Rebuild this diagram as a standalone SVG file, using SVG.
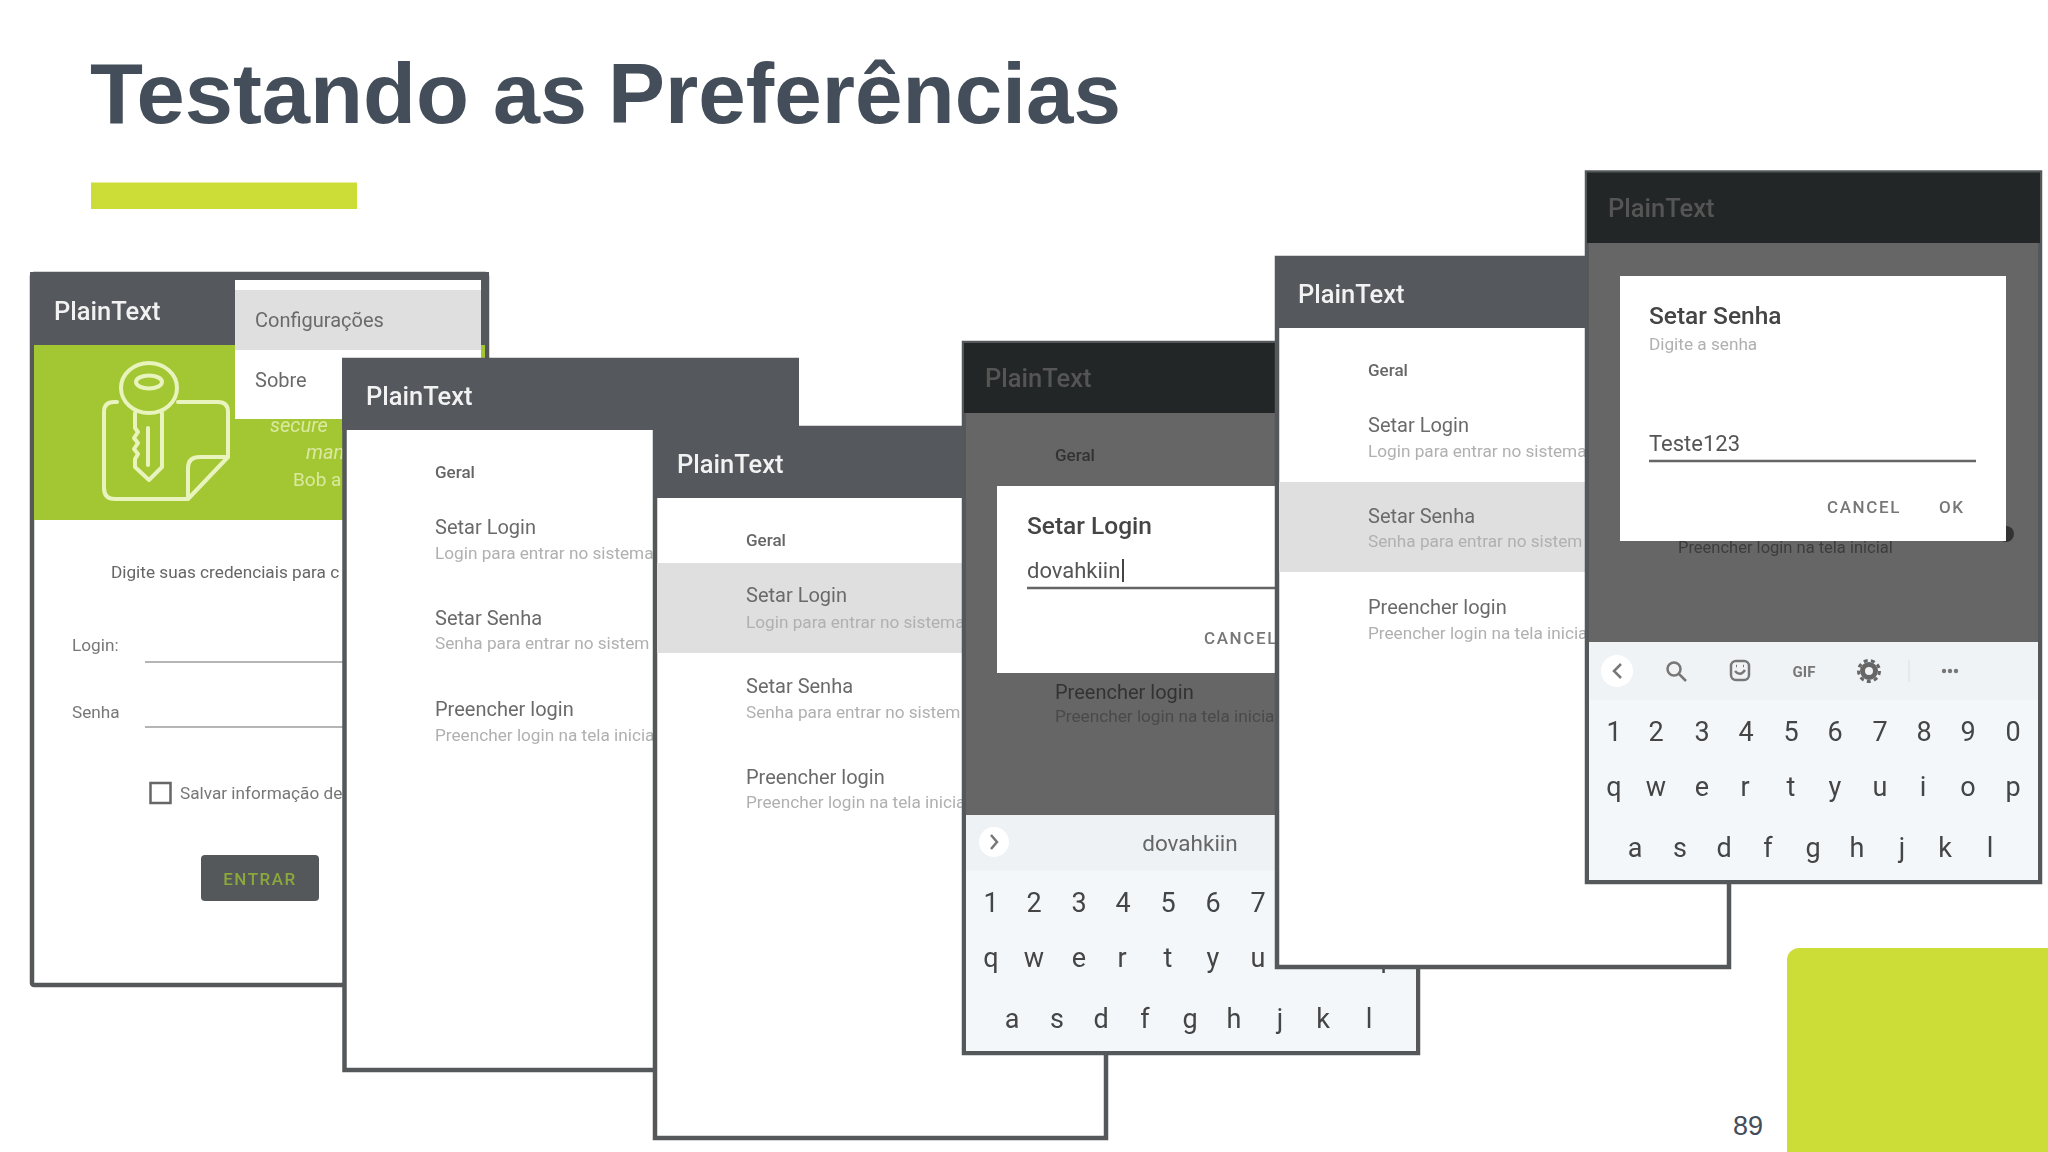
<svg xmlns="http://www.w3.org/2000/svg" width="2048" height="1152" viewBox="0 0 2048 1152">
<style>
text{font-family:Roboto,"Liberation Sans",sans-serif}
.frame{fill:#fff;stroke:#55585a;stroke-width:4.5}
.hd{fill:#55595c}
.hdd{fill:#232625}
.dim{fill:#666}
.ttl{font-size:25.500px;font-weight:500;fill:#f2f2f2}
.ttld{font-size:25.500px;font-weight:500;fill:#555}
.cat{font-size:17px;fill:#666;font-weight:500}
.it{font-size:20px;fill:#6a6a6a}
.sub{font-size:17.200px;fill:#b0b0b0}
.hl{fill:#dfdfdf}
.dlgt{font-size:24.500px;font-weight:500;fill:#454545}
.val{font-size:22px;fill:#555}
.btn{font-size:17px;font-weight:500;letter-spacing:1.600px;fill:#777}
.kb{fill:#f3f7fa}
.key{font-size:27px;fill:#444;text-anchor:middle}
.lbl{font-size:17.200px;fill:#777}
.ln{stroke:#666;stroke-width:2.500;fill:none}
.ic{stroke:#777;stroke-width:2.500;fill:none}
.kk{stroke:#e8f3bd;stroke-width:4;fill:none;stroke-linejoin:round;stroke-linecap:round}
</style>
<defs>
<filter id="soft" x="-2%" y="-2%" width="104%" height="104%"><feGaussianBlur stdDeviation="0.7"/></filter>
</defs>
<rect width="2048" height="1152" fill="#fff"/>

<g id="title">
<text y="123" font-size="85.500" font-weight="700" style="font-family:'Liberation Sans',Arial,sans-serif" fill="#444e5a"><tspan x="90" textLength="379" lengthAdjust="spacingAndGlyphs">Testando</tspan> <tspan x="493" textLength="94" lengthAdjust="spacingAndGlyphs">as</tspan> <tspan x="608" textLength="513" lengthAdjust="spacingAndGlyphs">Preferências</tspan></text>
<rect x="91" y="182.500" width="266" height="26.500" fill="#cddd38"/>
</g>

<g id="corner">
<rect x="1787" y="948" width="300" height="260" rx="12" fill="#cddd38"/>
<text x="1748" y="1135" font-size="27" fill="#434d5a" text-anchor="middle" style="font-family:'Liberation Sans',Arial,sans-serif">89</text>
</g>

<g filter="url(#soft)">
<g id="screen-a">
<rect class="frame" x="32" y="274" width="455" height="711" rx="2"/>
<rect class="hd" x="30" y="272" width="459" height="74"/>
<rect x="34" y="345" width="451" height="175" fill="#a2c732"/>
<text class="ttl" x="54" y="320">PlainText</text>
<path class="kk" d="M117 402H114Q104 402 104 412V488Q104 499 115 499H188L228 457V412Q228 402 218 402H178"/>
<path class="kk" d="M188 498V468Q188 457 200 457H228"/>
<ellipse class="kk" cx="149" cy="388" rx="28" ry="25"/>
<ellipse class="kk" cx="149" cy="382" rx="13" ry="6.500"/>
<path class="kk" d="M135 413V428L138 432L134 438L138 443L134 449L138 454L135 459V467L149 480L162 467V413"/>
<path class="kk" d="M148 428V465"/>
<text x="270" y="432" font-size="20" font-style="italic" fill="#dbe9a0">secure</text>
<text x="306" y="459" font-size="20" font-style="italic" fill="#dbe9a0">man</text>
<text x="293" y="486" font-size="19" fill="#dbe9a0">Bob a</text>
<rect x="235" y="280" width="246" height="139" fill="#fff"/>
<rect class="hl" x="235" y="290" width="246" height="60"/>
<text class="it" x="255" y="327">Configurações</text>
<text class="it" x="255" y="387">Sobre</text>
<text class="lbl" x="111" y="578" style="fill:#666">Digite suas credenciais para c</text>
<text class="lbl" x="72" y="651">Login:</text>
<text class="lbl" x="72" y="718">Senha</text>
<path d="M145 662H345M145 727H345" stroke="#b5b5b5" stroke-width="2"/>
<rect x="150.500" y="783" width="20" height="20" fill="none" stroke="#666" stroke-width="2.500"/>
<text class="lbl" x="180" y="799">Salvar informação de</text>
<rect x="201" y="855" width="118" height="46" rx="4" fill="#54585a"/>
<text x="260" y="885" font-size="17" font-weight="500" letter-spacing="1.500" fill="#8ba83c" text-anchor="middle">ENTRAR</text>
</g>

<g id="screen-b">
<rect class="frame" x="344.500" y="360" width="452" height="710"/>
<rect class="hd" x="342" y="358" width="457" height="72"/>
<text class="ttl" x="366" y="405">PlainText</text>
<text class="cat" x="435" y="478">Geral</text>
<text class="it" x="435" y="534">Setar Login</text>
<text class="sub" x="435" y="559">Login para entrar no sistema</text>
<text class="it" x="435" y="625">Setar Senha</text>
<text class="sub" x="435" y="649">Senha para entrar no sistem</text>
<text class="it" x="435" y="716">Preencher login</text>
<text class="sub" x="435" y="741">Preencher login na tela inicia</text>
</g>

<g id="screen-c">
<rect class="frame" x="655" y="428" width="451" height="710"/>
<rect class="hd" x="653" y="426" width="457" height="72"/>
<rect class="hl" x="657" y="563" width="310" height="90"/>
<text class="ttl" x="677" y="473">PlainText</text>
<text class="cat" x="746" y="546">Geral</text>
<text class="it" x="746" y="602">Setar Login</text>
<text class="sub" x="746" y="628">Login para entrar no sistema</text>
<text class="it" x="746" y="693">Setar Senha</text>
<text class="sub" x="746" y="718">Senha para entrar no sistem</text>
<text class="it" x="746" y="784">Preencher login</text>
<text class="sub" x="746" y="808">Preencher login na tela inicia</text>
</g>

<g id="screen-d">
<rect class="frame" x="964" y="343" width="454" height="710"/>
<rect class="hdd" x="964" y="343" width="454" height="70"/>
<rect class="dim" x="966" y="413" width="450" height="402"/>
<text class="ttld" x="985" y="387">PlainText</text>
<text class="cat" x="1055" y="461" style="fill:#333">Geral</text>
<rect x="997" y="486" width="300" height="187" fill="#fff"/>
<text class="dlgt" x="1027" y="534">Setar Login</text>
<text class="val" x="1027" y="578">dovahkiin</text>
<path d="M1123 559V582" stroke="#444" stroke-width="2"/>
<path class="ln" d="M1027 588H1290"/>
<text class="btn" x="1204" y="644">CANCEL</text>
<text class="it" x="1055" y="699" style="fill:#333">Preencher login</text>
<text class="sub" x="1055" y="722" style="fill:#4a4a4a">Preencher login na tela inicia</text>
<rect class="kb" x="966" y="815" width="450" height="236"/>
<rect x="966" y="815" width="450" height="56" fill="#eff2f5"/>
<circle cx="994" cy="842" r="15" fill="#fff"/>
<path class="ic" d="M991 835L997 842L991 849"/>
<text x="1190" y="851" font-size="22.500" fill="#666" text-anchor="middle">dovahkiin</text>
<text class="key" x="991" y="912">1</text><text class="key" x="1034" y="912">2</text><text class="key" x="1079" y="912">3</text><text class="key" x="1123" y="912">4</text><text class="key" x="1168" y="912">5</text><text class="key" x="1213" y="912">6</text><text class="key" x="1258" y="912">7</text>
<text class="key" x="991" y="967">q</text><text class="key" x="1034" y="967">w</text><text class="key" x="1079" y="967">e</text><text class="key" x="1122" y="967">r</text><text class="key" x="1168" y="967">t</text><text class="key" x="1213" y="967">y</text><text class="key" x="1258" y="967">u</text><text class="key" x="1388" y="967">p</text>
<text class="key" x="1012" y="1028">a</text><text class="key" x="1057" y="1028">s</text><text class="key" x="1101" y="1028">d</text><text class="key" x="1145" y="1028">f</text><text class="key" x="1190" y="1028">g</text><text class="key" x="1234" y="1028">h</text><text class="key" x="1280" y="1028">j</text><text class="key" x="1323" y="1028">k</text><text class="key" x="1369" y="1028">l</text>
</g>

<g id="screen-e">
<rect class="frame" x="1277" y="258" width="452" height="709"/>
<rect class="hd" x="1275" y="256" width="457" height="72"/>
<rect class="hl" x="1279" y="482" width="310" height="90"/>
<text class="ttl" x="1298" y="303">PlainText</text>
<text class="cat" x="1368" y="376">Geral</text>
<text class="it" x="1368" y="432">Setar Login</text>
<text class="sub" x="1368" y="457">Login para entrar no sistema</text>
<text class="it" x="1368" y="523">Setar Senha</text>
<text class="sub" x="1368" y="547">Senha para entrar no sistem</text>
<text class="it" x="1368" y="614">Preencher login</text>
<text class="sub" x="1368" y="639">Preencher login na tela inicia</text>
</g>

<g id="screen-f">
<rect class="frame" x="1587" y="172.500" width="453" height="709.500"/>
<rect class="hdd" x="1587" y="172.500" width="453" height="70.500"/>
<rect class="dim" x="1589" y="243" width="449" height="399"/>
<text class="ttld" x="1608" y="217">PlainText</text>
<text x="1678" y="553" font-size="16.500" fill="#3c3c3c">Preencher login na tela inicial</text>
<circle cx="2006" cy="534" r="8" fill="#333"/>
<rect x="1620" y="276" width="386" height="265" fill="#fff"/>
<text class="dlgt" x="1649" y="324">Setar Senha</text>
<text class="sub" x="1649" y="350">Digite a senha</text>
<text class="val" x="1649" y="451">Teste123</text>
<path class="ln" d="M1649 461H1976"/>
<text class="btn" x="1827" y="513">CANCEL</text>
<text class="btn" x="1939" y="513">OK</text>
<rect class="kb" x="1589" y="642" width="449" height="238"/>
<rect x="1589" y="642" width="449" height="58" fill="#f0f3f6"/>
<circle cx="1617" cy="671" r="16" fill="#fff"/>
<path class="ic" d="M1621 664L1614 671L1621 678"/>
<circle class="ic" cx="1674" cy="669" r="6.500"/><path class="ic" d="M1679 674L1686 681"/>
<rect class="ic" x="1731" y="661" width="18" height="19" rx="5"/><path class="ic" d="M1735 671Q1740 677 1745 670M1736 666H1737M1743 666H1744" stroke-width="2"/>
<text x="1804" y="677" font-size="15" font-weight="700" fill="#777" text-anchor="middle">GIF</text>
<circle cx="1869" cy="671" r="6.500" fill="none" stroke="#666" stroke-width="5"/>
<circle cx="1869" cy="671" r="10.500" fill="none" stroke="#666" stroke-width="3" stroke-dasharray="4 3.300"/>
<path d="M1909 660V682" stroke="#e3e6e8" stroke-width="1.500"/>
<circle cx="1944" cy="671" r="2.200" fill="#777"/><circle cx="1950" cy="671" r="2.200" fill="#777"/><circle cx="1956" cy="671" r="2.200" fill="#777"/>
<text class="key" x="1614" y="741">1</text><text class="key" x="1656" y="741">2</text><text class="key" x="1702" y="741">3</text><text class="key" x="1746" y="741">4</text><text class="key" x="1791" y="741">5</text><text class="key" x="1835" y="741">6</text><text class="key" x="1880" y="741">7</text><text class="key" x="1924" y="741">8</text><text class="key" x="1968" y="741">9</text><text class="key" x="2013" y="741">0</text>
<text class="key" x="1614" y="796">q</text><text class="key" x="1656" y="796">w</text><text class="key" x="1702" y="796">e</text><text class="key" x="1745" y="796">r</text><text class="key" x="1791" y="796">t</text><text class="key" x="1835" y="796">y</text><text class="key" x="1880" y="796">u</text><text class="key" x="1923" y="796">i</text><text class="key" x="1968" y="796">o</text><text class="key" x="2013" y="796">p</text>
<text class="key" x="1635" y="857">a</text><text class="key" x="1680" y="857">s</text><text class="key" x="1724" y="857">d</text><text class="key" x="1768" y="857">f</text><text class="key" x="1813" y="857">g</text><text class="key" x="1857" y="857">h</text><text class="key" x="1902" y="857">j</text><text class="key" x="1945" y="857">k</text><text class="key" x="1990" y="857">l</text>
</g>
</g>
</svg>
